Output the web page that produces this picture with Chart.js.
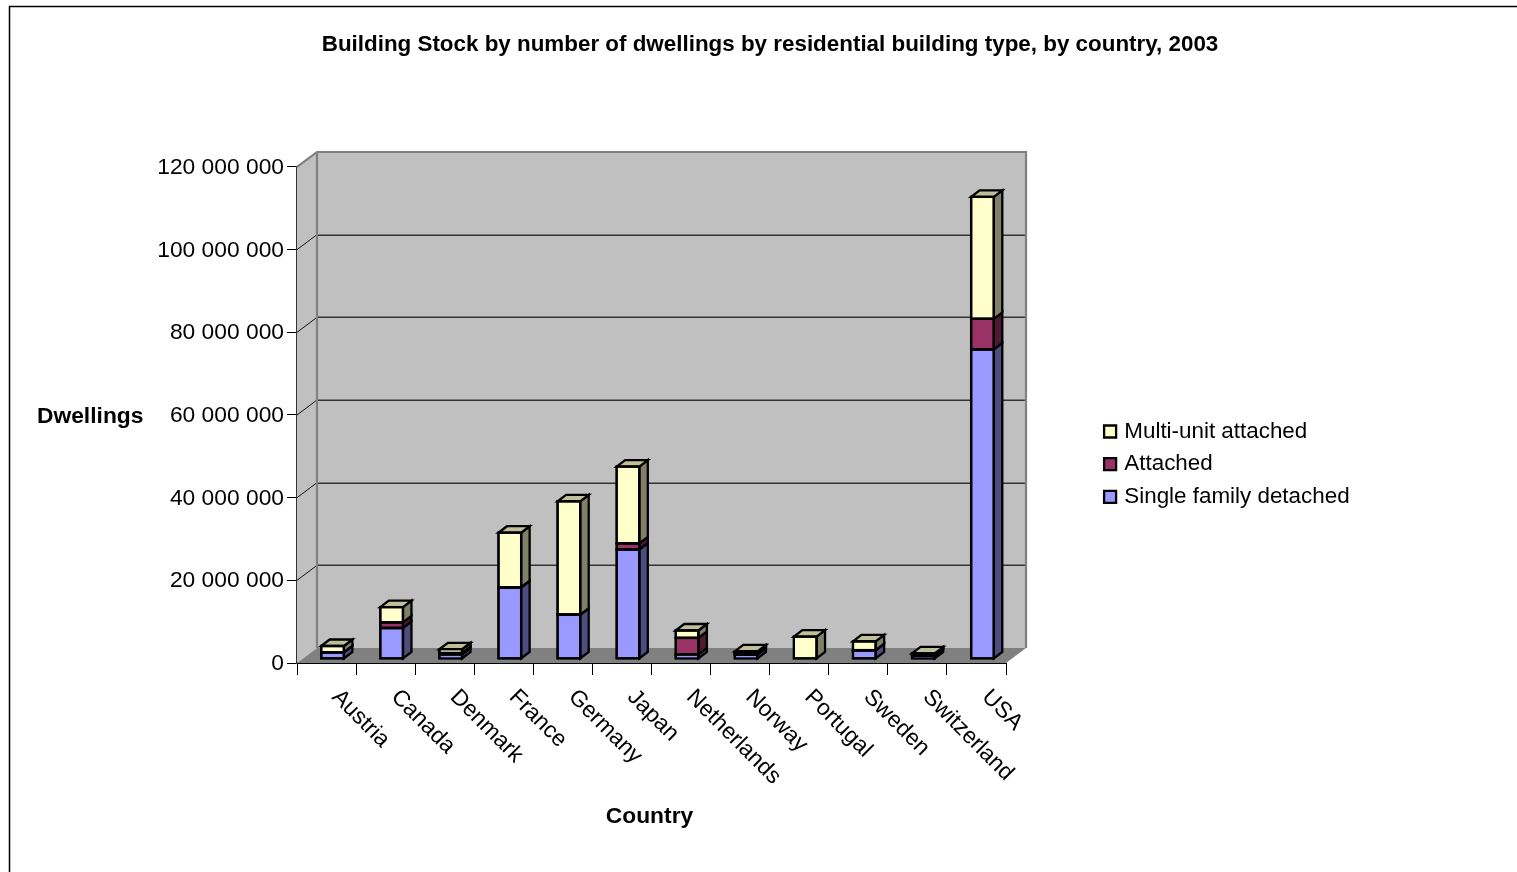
<!DOCTYPE html>
<html>
<head>
<meta charset="utf-8">
<style>html,body{margin:0;padding:0;background:#fff}canvas{display:block}</style>
<script src="https://cdn.jsdelivr.net/npm/chart.js@4"></script>
</head>
<body>
<canvas id="c" width="1517" height="872"></canvas>
<script>
const categories = ['Austria','Canada','Denmark','France','Germany','Japan','Netherlands','Norway','Portugal','Sweden','Switzerland','USA'];
const singleFamily = [1600000,7500000,1100000,17300000,10700000,26500000,1100000,1050000,0,2100000,800000,74900000];
const attached     = [50000,1350000,350000,50000,50000,1450000,4000000,300000,0,50000,200000,7400000];
const multiUnit    = [1500000,3700000,900000,13200000,27400000,18600000,1800000,500000,5400000,2100000,350000,29500000];
const yMax = 120000000, yStep = 20000000;
const titleText = 'Building Stock by number of dwellings by residential building type, by country, 2003';
const yTitle = 'Dwellings', xTitle = 'Country';
const colors = {single:'#9999FF', attached:'#993366', multi:'#FFFFCC'};
const sideColors = ['#4D4D80','#4D1A33','#808066'];
const topColors = ['#BDBDE0','#B07090','#BFBF99'];

const FF = '"Liberation Sans", Arial, sans-serif';
const WALL = {dx:20, dy:15};
const BAR_SHIFT = {dx:6, dy:-4};
const BAR_DEPTH = {dx:8.5, dy:6.5};
const STROKE = 2.3;

const scene = {
  id:'scene',
  beforeDraw(chart){
    const c = chart.ctx; 
    c.save();
    c.fillStyle='#fff'; c.fillRect(0,0,chart.width,chart.height);
    c.strokeStyle='#000'; c.lineWidth=1.5;
    c.beginPath(); c.moveTo(9.5,chart.height); c.lineTo(9.5,6.5); c.lineTo(chart.width,6.5); c.stroke();
    c.restore();
  },
  beforeDatasetsDraw(chart){
    const c = chart.ctx, a = chart.chartArea, y = chart.scales.y;
    const L=a.left,R=a.right,T=a.top,B=a.bottom,dx=WALL.dx,dy=WALL.dy;
    c.save();
    c.fillStyle='#C0C0C0';
    c.beginPath(); c.moveTo(L,T); c.lineTo(L+dx,T-dy); c.lineTo(R+dx,T-dy); c.lineTo(R+dx,B-dy); c.lineTo(L+dx,B-dy); c.lineTo(L,B); c.closePath(); c.fill();
    c.fillStyle='#808080';
    c.beginPath(); c.moveTo(L,B); c.lineTo(R,B); c.lineTo(R+dx,B-dy); c.lineTo(L+dx,B-dy); c.closePath(); c.fill();
    y.ticks.forEach(t=>{
      if(t.value===0||t.value===yMax) return;
      const p=y.getPixelForValue(t.value);
      c.strokeStyle='#333'; c.lineWidth=1.5;
      const yy=Math.round(p-dy)+0.25;
      c.beginPath(); c.moveTo(L+dx,yy); c.lineTo(R+dx,yy); c.stroke();
      c.strokeStyle='#111'; c.lineWidth=1;
      c.beginPath(); c.moveTo(L,p); c.lineTo(L+dx,p-dy); c.stroke();
    });
    c.strokeStyle='#808080'; c.lineWidth=2.2;
    c.beginPath(); c.moveTo(L,T); c.lineTo(L+dx,T-dy); c.lineTo(R+dx,T-dy); c.lineTo(R+dx,B-dy); c.stroke();
    c.beginPath(); c.moveTo(L+dx,T-dy); c.lineTo(L+dx,B-dy); c.stroke();
    c.restore();
    c.save();
    c.translate(BAR_SHIFT.dx,BAR_SHIFT.dy);
    c.lineWidth=STROKE; c.strokeStyle='#000'; c.lineJoin='miter';
    const metas=chart.getSortedVisibleDatasetMetas();
    categories.forEach((_,i)=>{
      let topDs=0;
      metas.forEach((m,d)=>{ if(chart.data.datasets[d].data[i]>0) topDs=d; });
      metas.forEach((m,d)=>{
        if(!(chart.data.datasets[d].data[i]>0)) return;
        const b=m.data[i], r=b.x+b.width/2;
        c.fillStyle=sideColors[d];
        c.beginPath(); c.moveTo(r,b.y); c.lineTo(r+BAR_DEPTH.dx,b.y-BAR_DEPTH.dy); c.lineTo(r+BAR_DEPTH.dx,b.base-BAR_DEPTH.dy); c.lineTo(r,b.base); c.closePath(); c.fill(); c.stroke();
      });
      const b=metas[topDs].data[i], r=b.x+b.width/2, l=b.x-b.width/2;
      c.fillStyle=topColors[topDs];
      c.beginPath(); c.moveTo(l,b.y); c.lineTo(l+BAR_DEPTH.dx,b.y-BAR_DEPTH.dy); c.lineTo(r+BAR_DEPTH.dx,b.y-BAR_DEPTH.dy); c.lineTo(r,b.y); c.closePath(); c.fill(); c.stroke();
    });
    c.restore();
    c.save();
    c.translate(BAR_SHIFT.dx,BAR_SHIFT.dy);
  },
  afterDatasetsDraw(chart){
    const c=chart.ctx;
    c.lineWidth=STROKE; c.strokeStyle='#000';
    chart.getSortedVisibleDatasetMetas().forEach((m,d)=>{
      m.data.forEach((b,i)=>{
        if(!(chart.data.datasets[d].data[i]>0)) return;
        c.strokeRect(b.x-b.width/2,b.y,b.width,b.base-b.y);
      });
    });
    c.restore();
  },
  afterLayout(chart){
    const t=chart.titleBlock; t.left=23; t.right=1517;
    const lg=chart.legend; lg.left=1096.8; lg.right=1500; lg.top=410; lg.bottom=620; lg.width=403; lg.height=210;
  },
  afterDraw(chart){
    const c=chart.ctx; c.save();
    c.font='bold 22.8px '+FF; c.fillStyle='#000'; c.textBaseline='middle';
    c.textAlign='left'; c.fillText(yTitle,37,417);
    c.textAlign='center'; c.fillText(xTitle,649.5,817);
    c.restore();
  }
};

new Chart(document.getElementById('c'),{
  type:'bar',
  data:{labels:categories,datasets:[
    {label:'Single family detached',data:singleFamily,backgroundColor:colors.single},
    {label:'Attached',data:attached,backgroundColor:colors.attached},
    {label:'Multi-unit attached',data:multiUnit,backgroundColor:colors.multi}
  ]},
  options:{
    responsive:false,animation:false,
    font:{family:FF},
    layout:{padding:{left:0,top:0,right:511,bottom:0}},
    datasets:{bar:{categoryPercentage:1,barPercentage:0.384,borderColor:'#000',borderWidth:2.3,borderSkipped:false,inflateAmount:1.15}},
    plugins:{
      tooltip:{enabled:false},
      title:{display:true,text:titleText,color:'#000',font:{family:FF,size:22.4,weight:'bold',lineHeight:1.2},padding:{top:31.6,bottom:108.5}},
      legend:{display:true,position:'chartArea',align:'start',reverse:true,
        labels:{usePointStyle:true,pointStyle:'rect',boxWidth:6,boxHeight:12,padding:10.3,color:'#000',font:{family:FF,size:22.4,lineHeight:1}}}
    },
    scales:{
      x:{stacked:true,offset:true,
        afterFit(s){s.height=209;},
        afterUpdate(s){s._getXAxisLabelAlignment=()=>'left';},
        grid:{offset:true,drawOnChartArea:false,drawTicks:true,tickLength:12,tickColor:'#000',tickWidth:1},
        border:{display:true,color:'#000',width:1},
        ticks:{autoSkip:false,minRotation:-45,maxRotation:-45,color:'#000',padding:9,labelOffset:9,font:{family:FF,size:22.8}}
      },
      y:{stacked:true,min:0,max:yMax,
        afterFit(s){s.width=297;},
        grid:{drawOnChartArea:false,drawTicks:true,tickLength:10,tickColor:'#000',tickWidth:1},
        border:{display:true,color:'#333',width:2},
        ticks:{stepSize:yStep,color:'#000',padding:3,labelOffset:0.6,font:{family:FF,size:22.8},
          callback(v){return String(v).replace(/\B(?=(\d{3})+(?!\d))/g,' ');}}
      }
    }
  },
  plugins:[scene]
});
</script>
</body>
</html>
